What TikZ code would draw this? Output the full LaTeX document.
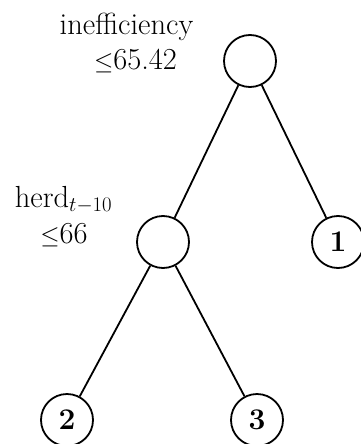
\documentclass[tikz,border=0pt]{standalone}
\begin{document}
\begin{tikzpicture}[x=1pt,y=-1pt,
  tnode/.style={circle,draw,line width=1.8pt,minimum size=52pt,inner sep=0pt,font=\fontsize{30}{36}\selectfont\bfseries},
  edge/.style={line width=1.8pt},
  lbl/.style={anchor=base,inner sep=0pt,font=\fontsize{30.5}{36}\selectfont}]
\useasboundingbox (0,0) rectangle (361,444);
\node[tnode] (r) at (250,61) {};
\node[tnode] (a) at (163,242) {};
\node[tnode] (l1) at (338,242) {1};
\node[tnode] (l2) at (67,420) {2};
\node[tnode] (l3) at (257,420) {3};
\draw[edge] (r) -- (a);
\draw[edge] (r) -- (l1);
\draw[edge] (a) -- (l2);
\draw[edge] (a) -- (l3);
\node[lbl] (t1) at (126.5,35) {inefficiency};
\node[lbl] (t2) at (135.5,70) {$\leq$65.42};
\node[lbl] (t3) at (63.5,207) {herd$_{t-10}$};
\node[lbl] (t4) at (64,243) {$\leq$66};
\end{tikzpicture}
\end{document}
